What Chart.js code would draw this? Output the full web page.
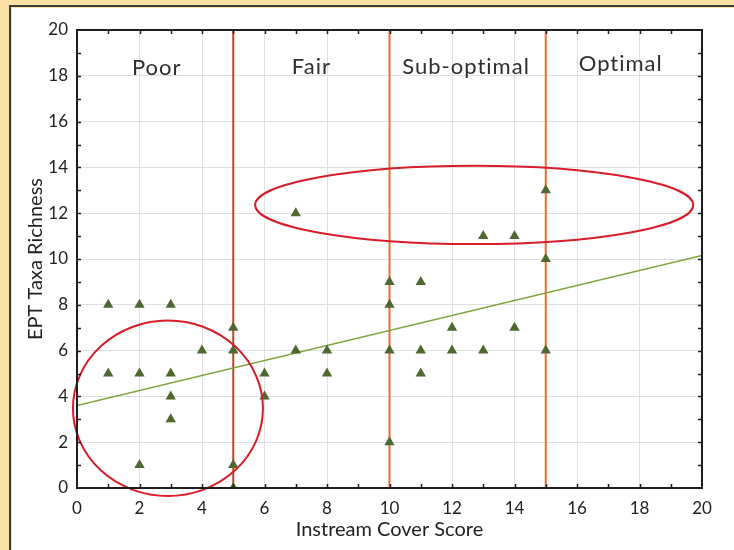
<!DOCTYPE html>
<html>
<head>
<meta charset="utf-8">
<script src="https://cdn.jsdelivr.net/npm/chart.js@4.4.1/dist/chart.umd.min.js"></script>
<style>
  html, body { margin: 0; padding: 0; background: #fadfa6; }
  #frame { position: relative; width: 734px; height: 550px; overflow: hidden; background: #fadfa6; }
  #edge { position: absolute; left: 9px; top: 5px; right: -10px; bottom: -10px;
          border-left: 2px solid #3a3a3a; border-top: 2px solid #3a3a3a; }
  #panel { position: absolute; left: 12px; top: 8px; right: 0; bottom: 0; background: #ffffff; }
  canvas { position: absolute; left: 0; top: 0; }
</style>
</head>
<body>
<div id="frame">
  <div id="edge"></div>
  <div id="panel"></div>
  <canvas id="c" width="734" height="550"></canvas>
</div>
<script>
// Instream cover score and EPT taxa richness for each sampled site
const coverScore  = [1, 1, 2, 2, 2, 3, 3, 3, 3, 4, 5, 5, 5, 5, 6, 6, 7, 7, 8, 8,
                     10, 10, 10, 10, 11, 11, 11, 12, 12, 13, 13, 14, 14, 15, 15, 15];
const eptRichness = [8, 5, 8, 5, 1, 8, 5, 4, 3, 6, 7, 6, 1, 0, 5, 4, 12, 6, 6, 5,
                     9, 8, 6, 2, 9, 6, 5, 7, 6, 11, 6, 11, 7, 13, 10, 6];

// Linear fit end points
const trendX = [0, 20];
const trendY = [3.6, 10.15];

// Habitat class boundaries on the cover score axis
const classBoundaries = [5, 10, 15];
const classNames = ['Poor', 'Fair', 'Sub-optimal', 'Optimal'];

// Axis ticks
const axisMin = 0;
const axisMax = 20;
const majorStep = 2;

// ---- presentation ----
const FONT = 'Lato, "Open Sans", sans-serif';
const boundaryColors = ['#b84a2b', '#ec6d2f', '#ec6d2f'];
const classLabelAt = [[2.55, 18.03], [7.5, 18.1], [12.45, 18.1], [17.4, 18.22]];
// highlighted groups: centre x, centre y, half width, half height (axis units)
const highlightRings = [
  [2.91, 3.48, 3.04, 3.83],
  [12.71, 12.36, 7.01, 1.71]
];

const points = coverScore.map((x, i) => ({ x: x, y: eptRichness[i] }));
const trend = trendX.map((x, i) => ({ x: x, y: trendY[i] }));

const boundarySets = classBoundaries.map((b, i) => ({
  type: 'line',
  data: [{ x: b, y: axisMin }, { x: b, y: axisMax }],
  borderColor: boundaryColors[i],
  borderWidth: 2,
  pointRadius: 0,
  fill: false,
  order: 2,
  clip: false
}));

const overlay = {
  id: 'overlay',
  afterDatasetsDraw(chart) {
    const { ctx, chartArea: a, scales: { x, y } } = chart;
    ctx.save();

    // highlight rings
    ctx.strokeStyle = '#d81e2a';
    ctx.lineWidth = 2;
    highlightRings.forEach(([cx, cy, rx, ry]) => {
      const px = x.getPixelForValue(cx), py = y.getPixelForValue(cy);
      const rpx = x.getPixelForValue(cx + rx) - px;
      const rpy = py - y.getPixelForValue(cy + ry);
      ctx.beginPath();
      ctx.ellipse(px, py, rpx, rpy, 0, 0, Math.PI * 2);
      ctx.stroke();
    });

    // class names
    ctx.fillStyle = '#2e2e2e';
    ctx.font = '22px ' + FONT;
    ctx.textAlign = 'center';
    ctx.textBaseline = 'alphabetic';
    try { ctx.letterSpacing = '1px'; } catch (e) {}
    classNames.forEach((name, i) => {
      const [lx, ly] = classLabelAt[i];
      ctx.fillText(name, x.getPixelForValue(lx), y.getPixelForValue(ly));
    });
    try { ctx.letterSpacing = '0px'; } catch (e) {}

    // plot frame with inward ticks
    ctx.strokeStyle = '#1e1e1e';
    ctx.lineWidth = 2;
    ctx.strokeRect(a.left, a.top, a.right - a.left, a.bottom - a.top);
    ctx.lineWidth = 1.5;
    ctx.beginPath();
    for (let v = axisMin + 1; v < axisMax; v++) {
      const px = Math.round(x.getPixelForValue(v)) + 0.5;
      ctx.moveTo(px, a.bottom); ctx.lineTo(px, a.bottom - 4);
      ctx.moveTo(px, a.top); ctx.lineTo(px, a.top + 4);
      const py = Math.round(y.getPixelForValue(v)) + 0.5;
      ctx.moveTo(a.left, py); ctx.lineTo(a.left + 4, py);
      ctx.moveTo(a.right, py); ctx.lineTo(a.right - 4, py);
    }
    ctx.stroke();
    ctx.restore();
  }
};

const tickFont = { family: FONT, size: 17 };
const titleFont = { family: FONT, size: 20 };

new Chart(document.getElementById('c'), {
  type: 'scatter',
  data: {
    datasets: [
      {
        type: 'scatter',
        data: points,
        pointStyle: 'triangle',
        pointRadius: 6,
        pointHoverRadius: 6,
        backgroundColor: '#4f6731',
        borderColor: '#4f6731',
        borderWidth: 0,
        order: 0
      },
      {
        type: 'line',
        data: trend,
        borderColor: '#7ea53d',
        borderWidth: 1.5,
        pointRadius: 0,
        fill: false,
        order: 1
      },
      ...boundarySets
    ]
  },
  options: {
    responsive: false,
    animation: false,
    devicePixelRatio: 1,
    layout: { padding: { left: 0, right: 32, top: 30, bottom: 0 } },
    plugins: { legend: { display: false }, tooltip: { enabled: false } },
    scales: {
      x: {
        type: 'linear',
        min: axisMin, max: axisMax,
        ticks: { stepSize: majorStep, font: tickFont, color: '#222222', padding: 10, maxRotation: 0 },
        grid: { color: '#e0e0e0', lineWidth: 1, drawTicks: false },
        border: { display: false },
        title: { display: true, text: 'Instream Cover Score', font: titleFont, color: '#222222',
                 padding: { top: 0, bottom: 8 } },
        afterFit(s) { s.height = 62; }
      },
      y: {
        type: 'linear',
        min: axisMin, max: axisMax,
        ticks: { stepSize: majorStep, font: tickFont, color: '#222222', padding: 9 },
        grid: { color: '#e0e0e0', lineWidth: 1, drawTicks: false },
        border: { display: false },
        title: { display: true, text: 'EPT Taxa Richness', font: titleFont, color: '#222222',
                 padding: { top: 24, bottom: 0 } },
        afterFit(s) { s.width = 77; }
      }
    }
  },
  plugins: [overlay]
});
</script>
</body>
</html>
